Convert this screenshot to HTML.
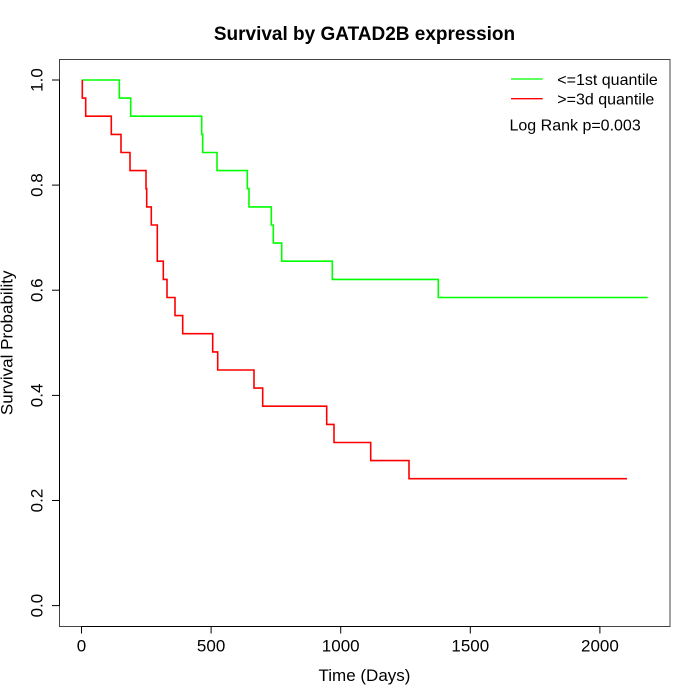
<!DOCTYPE html>
<html>
<head>
<meta charset="utf-8">
<style>
  html, body { margin: 0; padding: 0; background: #ffffff; }
  svg { display: block; }
  text { font-family: "Liberation Sans", Arial, sans-serif; fill: #000; }
</style>
</head>
<body>
<svg width="700" height="700" viewBox="0 0 700 700" xmlns="http://www.w3.org/2000/svg">
  <rect x="0" y="0" width="700" height="700" fill="#ffffff"/>

  <!-- Title -->
  <text x="364.5" y="40" font-size="19" font-weight="bold" text-anchor="middle">Survival by GATAD2B expression</text>

  <!-- Plot box -->
  <rect x="59.5" y="59.5" width="610.5" height="567" fill="none" stroke="#444" stroke-width="1"/>

  <!-- X axis -->
  <g stroke="#000" stroke-width="1" fill="none">
    <line x1="81.5" y1="626.5" x2="600" y2="626.5"/>
    <line x1="81.5" y1="626.5" x2="81.5" y2="633.5"/>
    <line x1="211.1" y1="626.5" x2="211.1" y2="633.5"/>
    <line x1="340.7" y1="626.5" x2="340.7" y2="633.5"/>
    <line x1="470.3" y1="626.5" x2="470.3" y2="633.5"/>
    <line x1="599.9" y1="626.5" x2="599.9" y2="633.5"/>
  </g>
  <g font-size="17" text-anchor="middle">
    <text x="81.5" y="651.5">0</text>
    <text x="211.1" y="651.5">500</text>
    <text x="340.7" y="651.5">1000</text>
    <text x="470.3" y="651.5">1500</text>
    <text x="599.9" y="651.5">2000</text>
  </g>
  <text x="364.5" y="681" font-size="17" text-anchor="middle">Time (Days)</text>

  <!-- Y axis -->
  <g stroke="#000" stroke-width="1" fill="none">
    <line x1="59.5" y1="80" x2="59.5" y2="605.6"/>
    <line x1="52" y1="605.6" x2="59.5" y2="605.6"/>
    <line x1="52" y1="500.5" x2="59.5" y2="500.5"/>
    <line x1="52" y1="395.4" x2="59.5" y2="395.4"/>
    <line x1="52" y1="290.2" x2="59.5" y2="290.2"/>
    <line x1="52" y1="185.1" x2="59.5" y2="185.1"/>
    <line x1="52" y1="80" x2="59.5" y2="80"/>
  </g>
  <g font-size="17" text-anchor="middle">
    <text x="42.5" y="605.6" transform="rotate(-90 42.5 605.6)">0.0</text>
    <text x="42.5" y="500.5" transform="rotate(-90 42.5 500.5)">0.2</text>
    <text x="42.5" y="395.4" transform="rotate(-90 42.5 395.4)">0.4</text>
    <text x="42.5" y="290.2" transform="rotate(-90 42.5 290.2)">0.6</text>
    <text x="42.5" y="185.1" transform="rotate(-90 42.5 185.1)">0.8</text>
    <text x="42.5" y="80" transform="rotate(-90 42.5 80)">1.0</text>
  </g>
  <text x="12.5" y="342.8" font-size="17" text-anchor="middle" transform="rotate(-90 12.5 342.8)">Survival Probability</text>

  <!-- Green curve -->
  <path fill="none" stroke="#00ff00" stroke-width="1.6" stroke-linejoin="miter"
        d="M81.8,80 H119.3 V98.1 H130.7 V116.2 H201.7 V134.4 H202.7 V152.5 H217 V170.6 H247.3 V188.7 H249 V206.9 H271.3 V225.0 H273.3 V243.1 H281.7 V261.2 H332.3 V279.4 H438.3 V297.5 H647.7"/>

  <!-- Red curve -->
  <path fill="none" stroke="#ff0000" stroke-width="1.6" stroke-linejoin="miter"
        d="M82.3,80 V98.1 H85.7 V116.2 H111.3 V134.4 H121 V152.5 H130 V170.6 H146 V188.7 H146.7 V206.9 H151.3 V225.0 H157.3 V261.2 H163.3 V279.4 H167 V297.5 H175 V315.6 H182.7 V333.7 H212.7 V351.9 H217.7 V370.0 H254 V388.1 H262.7 V406.2 H326.7 V424.4 H334 V442.5 H370.7 V460.6 H409 V478.7 H627"/>

  <!-- Legend -->
  <line x1="511" y1="79" x2="542.7" y2="79" stroke="#00ff00" stroke-width="1.3"/>
  <line x1="511" y1="98.7" x2="542.7" y2="98.7" stroke="#ff0000" stroke-width="1.3"/>
  <text x="557.3" y="85" font-size="16">&lt;=1st quantile</text>
  <text x="557.3" y="104.7" font-size="16">&gt;=3d quantile</text>
  <text x="509.5" y="130.5" font-size="16">Log Rank p=0.003</text>
</svg>
</body>
</html>
